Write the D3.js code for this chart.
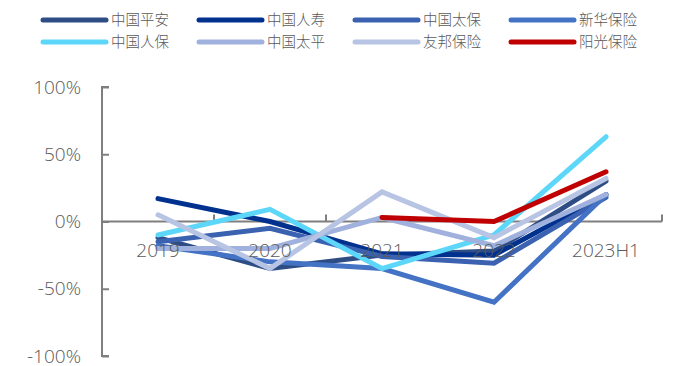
<!DOCTYPE html>
<html><head><meta charset="utf-8">
<script src="https://cdn.jsdelivr.net/npm/d3@7"></script>
<style>body{margin:0;background:#fff}svg{display:block}</style>
</head><body><svg id="c" width="675" height="366"></svg>
<script>
const categories = ["2019","2020","2021","2022","2023H1"];
const seriesNames = ["中国平安","中国人寿","中国太保","新华保险","中国人保","中国太平","友邦保险","阳光保险"];
const colors = ["#2E4D85","#00318F","#3A62B0","#4472C4","#5CD6F9","#9FB1DC","#B8C4E4","#C00000"];
const pingan  = [-12,-35,-25,-22,30];
const renshou = [17,0,-24,-25,20];
const taibao  = [-15,-5,-26,-31,18];
const xinhua  = [-18,-30,-35,-60,20];
const renbao  = [-10,9,-35,-10,63];
const taiping = [-20,-20,3,-18,20];
const youbang = [5,-35,22,-12,32];
const yangguang = [null,null,3,0,37];
const values = [pingan,renshou,taibao,xinhua,renbao,taiping,youbang,yangguang];
const yTicks = [100,50,0,-50,-100];

const svg = d3.select("#c");
const font = "'Noto Sans CJK SC','Noto Sans',sans-serif";
const numFont = "'Open Sans','Noto Sans',sans-serif";
const x = d3.scaleBand().domain(categories).range([102,662]);
const y = d3.scaleLinear().domain([-100,100]).range([356,87]);
const grey = "#7F7F7F", txt = "#595959";

// y axis
const ya = svg.append("g").attr("transform","translate(102,0)")
  .call(d3.axisRight(y).tickValues(yTicks).tickSize(7).tickFormat(""));
ya.select(".domain").attr("stroke",grey).attr("stroke-width",2).attr("d","M7,87H0V356H7");
ya.selectAll(".tick line").attr("stroke",grey).attr("stroke-width",2);
svg.append("g").selectAll("text").data(yTicks).join("text")
  .attr("x",81).attr("y",d=>y(d)).attr("dy","0.35em").attr("text-anchor","end")
  .attr("fill",txt).attr("font-family",numFont).attr("font-weight",300).attr("font-size",19).text(d=>d+"%");

// x axis at zero
const xa = svg.append("g").attr("transform",`translate(0,${y(0)})`)
  .call(d3.axisTop(x).tickSize(0).tickFormat(""));
xa.select(".domain").attr("stroke",grey).attr("stroke-width",2).attr("d",`M102,0H662`);
svg.append("g").selectAll("line").data(categories).join("line")
  .attr("x1",d=>x(d)+x.bandwidth()).attr("x2",d=>x(d)+x.bandwidth())
  .attr("y1",y(0)).attr("y2",y(0)-7).attr("stroke",grey).attr("stroke-width",2);

// lines
const line = d3.line().defined(d=>d.v!==null).x(d=>x(d.c)+x.bandwidth()/2).y(d=>y(d.v));
values.forEach((vals,i)=>{
  svg.append("path").datum(categories.map((c,j)=>({c,v:vals[j]})))
    .attr("d",line).attr("fill","none").attr("stroke",colors[i])
    .attr("stroke-width",5).attr("stroke-linecap","round").attr("stroke-linejoin","miter");
});

// x labels on top
svg.append("g").selectAll("text").data(categories).join("text")
  .attr("x",d=>x(d)+x.bandwidth()/2).attr("y",y(0)+29).attr("dy","0.35em").attr("text-anchor","middle")
  .attr("fill",txt).attr("font-family",numFont).attr("font-weight",300).attr("font-size",19).text(d=>d);

// legend
const lg = svg.append("g");
seriesNames.forEach((n,i)=>{
  const cx = 43 + (i%4)*156, cy = 20 + Math.floor(i/4)*22;
  lg.append("line").attr("x1",cx).attr("x2",cx+63).attr("y1",cy).attr("y2",cy)
    .attr("stroke",colors[i]).attr("stroke-width",5).attr("stroke-linecap","round");
  lg.append("text").attr("x",cx+68).attr("y",cy).attr("dy","0.35em")
    .attr("fill",txt).attr("font-family",font).attr("font-weight",300).attr("font-size",14.5).text(n);
});
</script></body></html>
